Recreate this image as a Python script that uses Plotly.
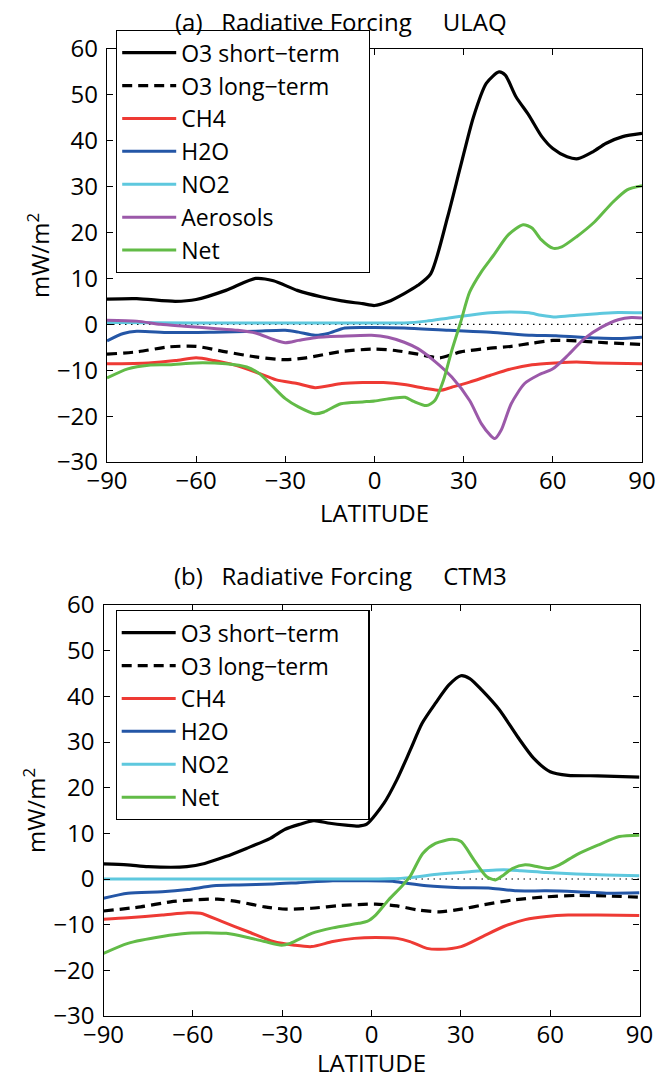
import plotly.graph_objects as go

# ---------------- Panel (a) ULAQ ----------------
a_o3s_lat = [-90, -80, -67, -60, -50, -40, -34, -26, -18, -11, -4, 0, 4.5, 10, 14.6, 18.9, 24.6, 28.9, 33.3, 37.6, 41.9, 44, 47.6, 51.9, 56.3, 60, 64.8, 68.5, 73.5, 77.8, 83.5, 90]
a_o3s = [5.5, 5.6, 5.0, 5.4, 7.4, 10.0, 9.5, 7.4, 6.0, 5.1, 4.5, 4.1, 4.9, 6.7, 8.5, 11.0, 23.4, 34.3, 45.2, 52.5, 55.0, 54.3, 49.6, 45.6, 40.9, 38.3, 36.5, 36.1, 37.6, 39.4, 40.9, 41.6]

a_o3l_lat = [-90, -80, -69, -60, -50, -40, -30, -23, -11, 0, 7, 14.6, 22, 29, 39, 46, 53, 60, 68, 75, 90]
a_o3l = [-6.5, -6.0, -4.9, -4.8, -6.0, -7.1, -7.7, -7.3, -5.9, -5.4, -5.7, -6.5, -7.3, -6.0, -5.2, -4.8, -4.1, -3.5, -3.6, -3.9, -4.4]

a_ch4_lat = [-90, -76, -67, -60, -54, -47, -40, -33, -26, -20, -11, -4, 3, 10, 17.5, 22, 26, 32, 39, 46, 53, 61, 68, 75, 90]
a_ch4 = [-8.6, -8.4, -7.9, -7.3, -7.9, -8.9, -10.4, -12.1, -12.9, -13.8, -12.9, -12.7, -12.7, -13.1, -14.0, -14.4, -13.7, -12.6, -11.1, -9.7, -8.8, -8.4, -8.2, -8.4, -8.6]

a_h2o_lat = [-90, -84.5, -80, -69, -54, -40, -30, -25.6, -20, -15.6, -10, 0, 10, 25, 39, 53, 61, 75, 82, 90]
a_h2o = [-3.6, -2.0, -1.5, -1.8, -1.7, -1.5, -1.3, -1.7, -2.4, -2.0, -0.8, -0.7, -0.8, -1.3, -1.7, -2.4, -2.5, -3.0, -3.1, -2.8]

a_no2_lat = [-90, -60, -30, 0, 10, 17.5, 25, 32, 39, 46, 52, 56, 61, 68, 75, 82, 90]
a_no2 = [0.4, 0.3, 0.3, 0.3, 0.3, 0.7, 1.4, 2.0, 2.5, 2.7, 2.5, 2.0, 1.6, 2.0, 2.3, 2.6, 2.5]

a_aer_lat = [-90, -80, -72, -64, -54, -46, -40, -34, -30, -25.6, -20, -11, -1, 4.5, 10, 14.6, 20, 26, 32, 36, 39, 40.5, 42.6, 46, 50.5, 55, 60, 65, 70.6, 76.4, 82, 86.4, 90]
a_aer = [0.9, 0.7, 0.0, -0.4, -0.9, -1.3, -1.9, -3.3, -4.0, -3.5, -2.9, -2.6, -2.4, -2.8, -3.9, -5.3, -7.9, -11.5, -16.6, -21.7, -24.2, -24.9, -23.1, -17.3, -12.9, -11.1, -9.7, -6.8, -3.1, -0.6, 1.0, 1.5, 1.4]

a_net_lat = [-90, -83, -76, -69, -60, -50, -43, -38.6, -34, -30, -25.6, -20, -17, -11.3, -4, 0, 6, 10.3, 13.2, 17.5, 20.3, 23.2, 26, 29, 32, 36, 40, 45, 50, 53, 56, 60, 63, 68, 74, 80, 85, 90]
a_net = [-11.7, -9.7, -8.9, -8.8, -8.4, -8.6, -9.3, -10.8, -13.7, -16.2, -18.0, -19.5, -19.1, -17.3, -16.9, -16.7, -16.1, -15.9, -16.8, -17.7, -16.6, -12.2, -5.7, 0.5, 7.0, 11.5, 15.0, 19.5, 21.7, 21.0, 18.5, 16.6, 16.9, 19.1, 22.3, 26.5, 29.3, 30.2]

# ---------------- Panel (b) CTM3 ----------------
b_o3s_lat = [-90, -82, -75, -62, -56, -49, -42, -34, -29, -24, -19.4, -14, -8.6, -4.3, -1.6, 4.2, 8.5, 13, 17, 21.5, 26, 30, 33, 37, 43, 49, 54.5, 60, 66, 76, 90]
b_o3s = [3.3, 3.1, 2.7, 2.7, 3.4, 4.9, 6.7, 8.9, 10.9, 12.0, 12.8, 12.2, 11.8, 11.6, 12.0, 16.6, 21.7, 28.2, 34.1, 38.5, 42.5, 44.5, 43.9, 41.4, 37.0, 31.2, 26.4, 23.5, 22.7, 22.6, 22.3]

b_o3l_lat = [-90, -77.5, -67.5, -60.3, -51.7, -44.5, -35.9, -28.7, -20.1, -10.1, 1.4, 8.6, 15.7, 22.9, 30.1, 37.3, 47.3, 58.8, 68.8, 78.9, 90]
b_o3l = [-7.0, -6.1, -5.0, -4.6, -4.4, -5.0, -6.1, -6.6, -6.4, -5.8, -5.5, -5.9, -6.8, -7.2, -6.6, -5.7, -4.6, -3.9, -3.6, -3.7, -4.0]

b_ch4_lat = [-90, -81.8, -70.3, -61.7, -57.4, -50.3, -41.6, -33, -25.9, -20.1, -13, -5.8, 1.4, 8.6, 12.9, 18.6, 22.9, 30.1, 37.3, 44.4, 51.6, 58.8, 66, 76, 90]
b_ch4 = [-8.8, -8.5, -7.9, -7.4, -7.5, -9.3, -11.5, -13.7, -14.5, -14.8, -13.7, -13.0, -12.8, -13.0, -13.7, -15.2, -15.4, -14.8, -12.6, -10.4, -8.9, -8.2, -7.9, -7.9, -8.0]

b_h2o_lat = [-90, -81.8, -70.3, -61.7, -53.1, -44.5, -33, -24.4, -13, -2.9, 7.1, 11.4, 18.6, 30.1, 40.1, 48.7, 58.8, 68.8, 78.9, 90]
b_h2o = [-4.2, -3.1, -2.8, -2.3, -1.5, -1.3, -1.1, -0.8, -0.4, -0.4, -0.5, -0.9, -1.5, -1.9, -2.0, -2.6, -2.6, -2.8, -3.1, -3.0]

b_no2_lat = [-90, -60, -30, 0, 6, 12.9, 22.9, 33, 44.4, 50.2, 58.8, 68.8, 78.9, 90]
b_no2 = [0.0, 0.0, 0.0, 0.0, 0.05, 0.3, 1.1, 1.6, 2.0, 1.8, 1.4, 1.1, 0.9, 0.7]

b_net_lat = [-90, -81.8, -70.3, -61.7, -53.1, -48.8, -41.6, -35.9, -30.2, -27.3, -20.1, -13, -4.3, -1.5, 1.4, 5.7, 10, 12.9, 17.2, 21.5, 27.2, 30.1, 34.4, 38.7, 41.6, 44.4, 47.3, 51.6, 55.9, 59.5, 63.1, 68.8, 76, 83.2, 90]
b_net = [-16.3, -14.1, -12.6, -11.9, -11.8, -11.9, -12.8, -13.7, -14.5, -14.1, -11.9, -10.7, -9.7, -9.3, -7.9, -4.6, -1.7, 0.5, 5.6, 7.8, 8.7, 8.2, 4.2, 0.5, -0.2, 0.9, 2.3, 3.1, 2.7, 2.3, 3.1, 5.3, 7.4, 9.3, 9.6]

x_ticks = [-90, -60, -30, 0, 30, 60, 90]
y_ticks = [-30, -20, -10, 0, 10, 20, 30, 40, 50, 60]

BLACK = "#000000"
RED = "#EE3A34"
BLUE = "#2456A6"
CYAN = "#5EC8DE"
PURPLE = "#9B59A9"
GREEN = "#62BB47"

FONT = "Open Sans"
FS = 24
LFS = 23
W, H = 669, 1079
ML, MR, MT, MB = 90, 20, 10, 50
PW, PH = W - ML - MR, H - MT - MB
PAD = "\u00a0\u00a0\u00a0\u00a0"  # legend box padding on the right, as in the original


def px_x(px):
    return (px - ML) / PW


def px_y(py):
    return 1 - (py - MT) / PH


fig = go.Figure()


def add(lat, val, name, color, dash, width, xa, ya, leg):
    fig.add_trace(go.Scatter(
        x=lat, y=val, name=name, mode="lines",
        line=dict(color=color, width=width, dash=dash, shape="spline", smoothing=0.7),
        xaxis=xa, yaxis=ya, legend=leg,
    ))


add(a_o3s_lat, a_o3s, "O3 short\u2212term" + PAD, BLACK, "solid", 3.2, "x", "y", "legend")
add(a_o3l_lat, a_o3l, "O3 long\u2212term", BLACK, "10px,6px", 3.2, "x", "y", "legend")
add(a_ch4_lat, a_ch4, "CH4", RED, "solid", 3, "x", "y", "legend")
add(a_h2o_lat, a_h2o, "H2O", BLUE, "solid", 3, "x", "y", "legend")
add(a_no2_lat, a_no2, "NO2", CYAN, "solid", 3, "x", "y", "legend")
add(a_aer_lat, a_aer, "Aerosols", PURPLE, "solid", 3, "x", "y", "legend")
add(a_net_lat, a_net, "Net", GREEN, "solid", 3, "x", "y", "legend")

add(b_o3s_lat, b_o3s, "O3 short\u2212term" + PAD, BLACK, "solid", 3.2, "x2", "y2", "legend2")
add(b_o3l_lat, b_o3l, "O3 long\u2212term", BLACK, "10px,6px", 3.2, "x2", "y2", "legend2")
add(b_ch4_lat, b_ch4, "CH4", RED, "solid", 3, "x2", "y2", "legend2")
add(b_h2o_lat, b_h2o, "H2O", BLUE, "solid", 3, "x2", "y2", "legend2")
add(b_no2_lat, b_no2, "NO2", CYAN, "solid", 3, "x2", "y2", "legend2")
add(b_net_lat, b_net, "Net", GREEN, "solid", 3, "x2", "y2", "legend2")

axis_common = dict(
    showline=True, linecolor="black", linewidth=1.3, mirror="ticks",
    ticks="inside", ticklen=6, tickwidth=1.2, tickcolor="black",
    showgrid=False, zeroline=False, automargin=False,
    tickfont=dict(family=FONT, size=FS, color="black"),
)

xa_dom = [px_x(107), px_x(642)]
xb_dom = [px_x(103.5), px_x(639.5)]
ya_dom = [px_y(462), px_y(49)]
yb_dom = [px_y(1016), px_y(605)]

legend_common = dict(xanchor="left", yanchor="top", bgcolor="white",
                     bordercolor="black", borderwidth=1.2,
                     font=dict(family=FONT, size=LFS, color="black"),
                     itemwidth=54, tracegroupgap=0)

title_font = dict(family=FONT, size=FS, color="black")

fig.update_layout(
    width=W, height=H,
    margin=dict(l=ML, r=MR, t=MT, b=MB),
    paper_bgcolor="white", plot_bgcolor="white",
    font=dict(family=FONT, size=FS, color="black"),
    xaxis=dict(domain=xa_dom, anchor="y", range=[-90, 90], tickvals=x_ticks, ticklabelstandoff=-3,
               **axis_common),
    yaxis=dict(domain=ya_dom, anchor="x", range=[-30, 60], tickvals=y_ticks, ticklabelstandoff=3,
               title=dict(text="mW/m<sup>2</sup>", standoff=0, font=title_font), **axis_common),
    xaxis2=dict(domain=xb_dom, anchor="y2", range=[-90, 90], tickvals=x_ticks, ticklabelstandoff=-3,
                **axis_common),
    yaxis2=dict(domain=yb_dom, anchor="x2", range=[-30, 60], tickvals=y_ticks, ticklabelstandoff=3,
                title=dict(text="mW/m<sup>2</sup>", standoff=0, font=title_font), **axis_common),
    legend=dict(x=px_x(116), y=px_y(30), **legend_common),
    legend2=dict(x=px_x(115.5), y=px_y(610), **legend_common),
    showlegend=True,
    annotations=[
        dict(text="(a)\u00a0\u00a0\u00a0Radiative Forcing\u00a0\u00a0\u00a0\u00a0\u00a0ULAQ",
             x=px_x(341), y=px_y(21), xref="paper", yref="paper", showarrow=False,
             xanchor="center", yanchor="middle", font=title_font),
        dict(text="(b)\u00a0\u00a0\u00a0Radiative Forcing\u00a0\u00a0\u00a0\u00a0\u00a0CTM3",
             x=px_x(340), y=px_y(575), xref="paper", yref="paper", showarrow=False,
             xanchor="center", yanchor="middle", font=title_font),
        dict(text="LATITUDE", x=px_x(374.5), y=px_y(512), xref="paper", yref="paper",
             showarrow=False, xanchor="center", yanchor="middle", font=title_font),
        dict(text="LATITUDE", x=px_x(371.5), y=px_y(1062), xref="paper", yref="paper",
             showarrow=False, xanchor="center", yanchor="middle", font=title_font),
    ],
    shapes=[
        dict(type="line", xref="x", yref="y", x0=-90, x1=90, y0=0, y1=0,
             line=dict(color="black", width=1.2, dash="1.5px,4.5px"), layer="below"),
        dict(type="line", xref="x2", yref="y2", x0=-90, x1=90, y0=0, y1=0,
             line=dict(color="black", width=1.2, dash="1.5px,4.5px"), layer="below"),
    ],
)

fig.write_html("out.html")
